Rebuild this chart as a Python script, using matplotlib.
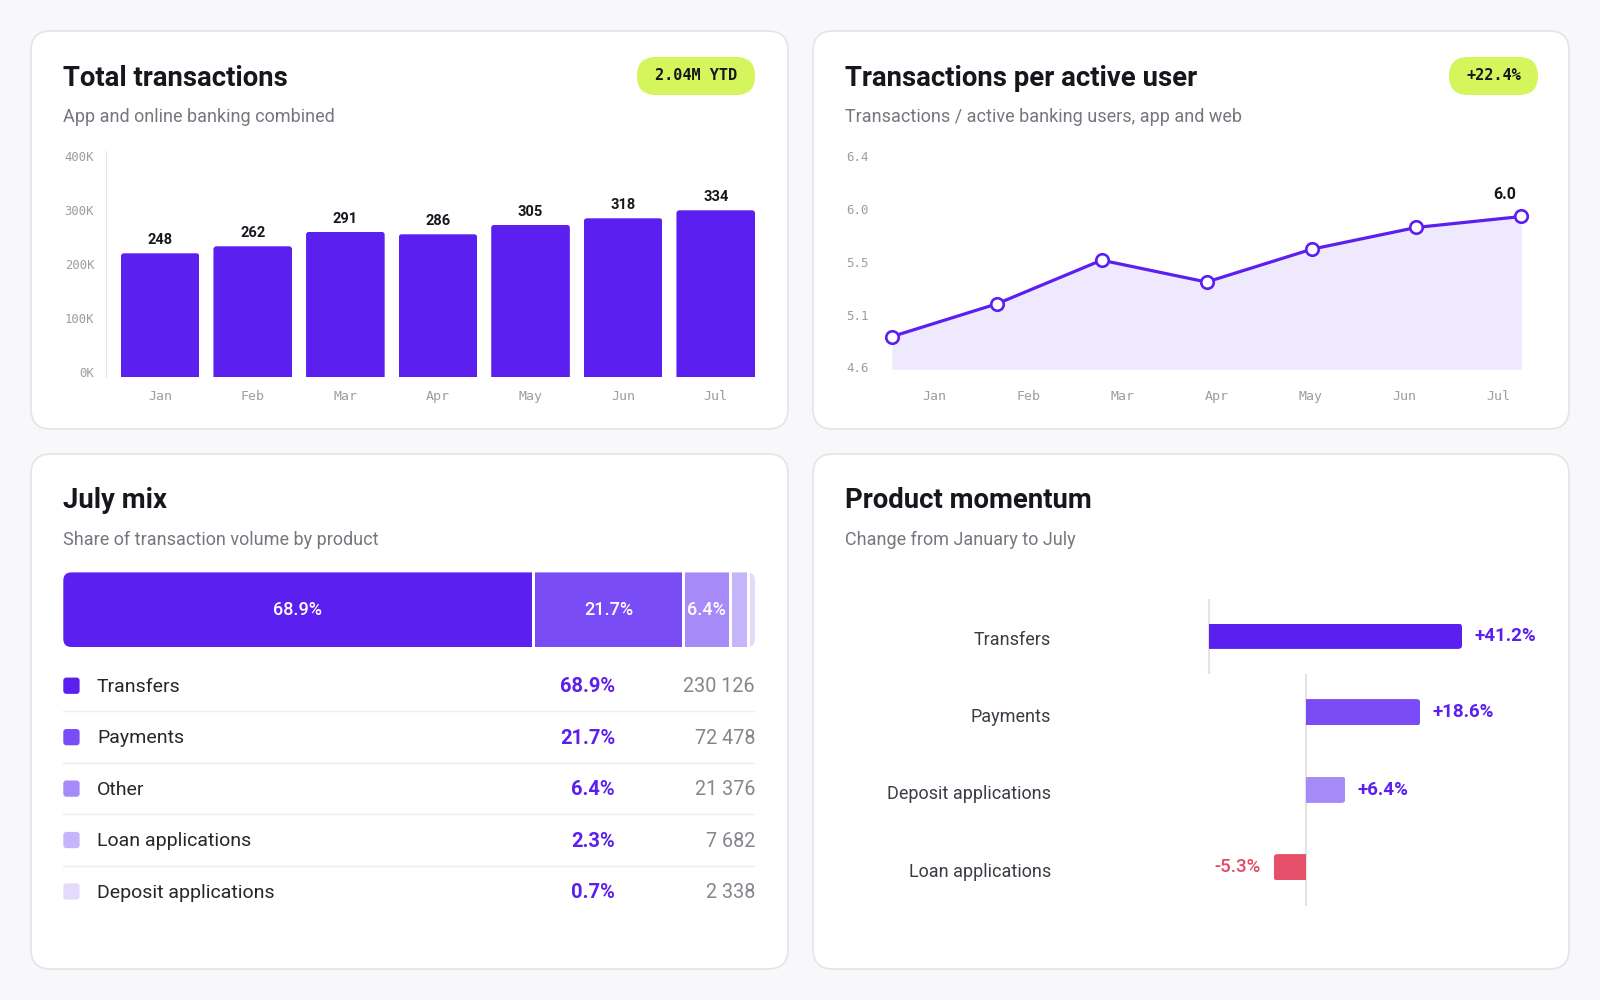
"""Banking dashboard: transactions, per-user rate, July mix and product momentum."""

import matplotlib

matplotlib.use("Agg")
import matplotlib.pyplot as plt
import numpy as np
from matplotlib.patches import FancyBboxPatch, Rectangle

# ---- data ----
months = ["Jan", "Feb", "Mar", "Apr", "May", "Jun", "Jul"]
transactions_k = [248, 262, 291, 286, 305, 318, 334]
volume_ticks_k = [0, 100, 200, 300, 400]

per_user = [4.9, 5.2, 5.6, 5.4, 5.7, 5.9, 6.0]
per_user_ticks = [4.6, 5.05, 5.5, 5.95, 6.4]
per_user_tick_labels = ["4.6", "5.1", "5.5", "6.0", "6.4"]

mix_products = ["Transfers", "Payments", "Other", "Loan applications", "Deposit applications"]
mix_share = [68.9, 21.7, 6.4, 2.3, 0.7]
mix_count = [230126, 72478, 21376, 7682, 2338]

momentum_products = ["Transfers", "Payments", "Deposit applications", "Loan applications"]
momentum_change = [41.2, 18.6, 6.4, -5.3]

# ---- style ----
W, H = 1600, 1000
BG = "#f8f8fa"
BORDER = "#e4e4e9"
INK = "#16161d"
SUB = "#76767e"
TICK = "#9c9ca3"
PURPLE = "#5b1ff0"
MIX_COLORS = ["#5b1ff0", "#7a4cf5", "#a68bf8", "#c6b5fb", "#e3dafd"]
MOM_COLORS = ["#5b1ff0", "#7a4cf5", "#a68bf8", "#e6506a"]
RED = "#e24a62"
LIME = "#d4f55b"
LAVENDER = "#efe9fd"
SANS = ["Roboto", "DejaVu Sans"]
MONO = ["DejaVu Sans Mono"]

plt.rcParams["font.family"] = SANS
fig = plt.figure(figsize=(W / 100, H / 100), dpi=100, facecolor=BG)


def rect(left, top, right, bottom):
    return [left / W, 1 - bottom / H, (right - left) / W, (bottom - top) / H]


def ftext(x, y, s, **kw):
    fig.text(x / W, 1 - y / H, s, **kw)


def card(left, top, right, bottom, title, subtitle):
    fig.add_artist(FancyBboxPatch(
        (left / W, 1 - bottom / H), (right - left) / W, (bottom - top) / H,
        boxstyle=f"round,pad=0,rounding_size={20 / W}", mutation_aspect=W / H,
        transform=fig.transFigure, facecolor="white", edgecolor=BORDER, lw=1.2, zorder=0))
    ftext(left + 32, top + 47, title, fontsize=19.8, fontweight="bold", color=INK, va="center")
    ftext(left + 32, top + 85.5, subtitle, fontsize=13, color=SUB, va="center")


def badge(left, top, right, bottom, label):
    h = bottom - top
    fig.add_artist(FancyBboxPatch(
        (left / W, 1 - bottom / H), (right - left) / W, h / H,
        boxstyle=f"round,pad=0,rounding_size={h / 2 / W}", mutation_aspect=W / H,
        transform=fig.transFigure, facecolor=LIME, edgecolor="none", zorder=1))
    ftext((left + right) / 2, (top + bottom) / 2, label, family=MONO, fontsize=11,
          fontweight="bold", color=INK, ha="center", va="center")


def rounded_bar(ax, x, y, w, h, color, r_px, flat=None):
    """Rounded box in data units; `flat` names a side that is cut square."""
    (x0, x1), (y0, y1) = ax.get_xlim(), ax.get_ylim()
    sx = ax.bbox.width / abs(x1 - x0)
    sy = ax.bbox.height / abs(y1 - y0)
    rx, ry = r_px / sx, r_px / sy
    bx, by, bw, bh = x, y, w, h
    if flat == "bottom":
        by, bh = y - ry, h + ry
    elif flat == "left":
        bx, bw = x - rx, w + rx
    elif flat == "right":
        bw = w + rx
    patch = FancyBboxPatch((bx, by), bw, bh, boxstyle=f"round,pad=0,rounding_size={rx}",
                           mutation_aspect=sx / sy, facecolor=color, edgecolor="none")
    ax.add_patch(patch)
    if flat:
        patch.set_clip_path(Rectangle((x, y), w, h, transform=ax.transData))
    return patch


def bare(ax):
    for s in ax.spines.values():
        s.set_visible(False)
    ax.patch.set_visible(False)
    ax.tick_params(length=0)


def label_axes(box, xlim, ylim):
    lax = fig.add_axes(box)
    bare(lax)
    lax.set_xlim(*xlim)
    lax.set_ylim(*ylim)
    lax.set_xticks([])
    lax.set_yticks([])
    return lax


# ---- cards ----
card(31, 31, 788, 429, "Total transactions", "App and online banking combined")
card(813, 31, 1569, 429, "Transactions per active user",
     "Transactions / active banking users, app and web")
card(31, 454, 788, 969, "July mix", "Share of transaction volume by product")
card(813, 454, 1569, 969, "Product momentum", "Change from January to July")

badge(637, 57, 755, 95, f"{sum(transactions_k) / 1000:.2f}M YTD")
badge(1449, 57, 1538, 95, f"+{(per_user[-1] / per_user[0] - 1) * 100:.1f}%")

# ---- total transactions bars ----
box1 = rect(106, 151, 755, 377.3)
ax1 = fig.add_axes(box1)
bare(ax1)
ax1.set_xlim(-0.585, 6.424)
ax1.set_ylim(0, 452.6)
ax1.spines["left"].set_visible(True)
ax1.spines["left"].set_color(BORDER)
bar_w = 0.849
for i, v in enumerate(transactions_k):
    rounded_bar(ax1, i - bar_w / 2, 0, bar_w, v, PURPLE, 3, flat="bottom")
    ax1.annotate(str(v), (i, v), xytext=(0, 6.5), textcoords="offset points",
                 ha="center", va="baseline", fontsize=10.5, fontweight="bold", color=INK)
ax1.set_xticks(range(len(months)), months, family=MONO, fontsize=9.5, color=TICK)
ax1.tick_params(axis="x", pad=9)
ax1.set_yticks([])

# axis labels in the reference span a slightly taller range than the bars
lax1 = label_axes(box1, (0, 1), (-9.06, 409.4))
lax1.set_yticks(volume_ticks_k, [f"{v}K" for v in volume_ticks_k], family=MONO,
                fontsize=8.8, color=TICK)
lax1.tick_params(axis="y", pad=8.5)

# ---- transactions per active user line ----
box2 = rect(887.8, 156.1, 1544.9, 369.4)
ax2 = fig.add_axes(box2)
bare(ax2)
ax2.set_xlim(-0.038, 6.224)
ax2.set_ylim(4.6, 6.553)
ax2.set_xticks([])
ax2.set_yticks([])
xs = np.arange(len(per_user))
ax2.fill_between(xs, per_user, 4.6, color=LAVENDER, lw=0)
ax2.plot(xs, per_user, color=PURPLE, lw=2.3, marker="o", ms=9, mfc="white",
         mec=PURPLE, mew=1.9, clip_on=False)
ax2.annotate(f"{per_user[-1]:.1f}", (xs[-1], per_user[-1]), xytext=(-3.5, 12.5),
             textcoords="offset points", ha="right", va="baseline", fontsize=11.5,
             fontweight="bold", color=INK)

lax2 = label_axes(box2, (-0.5, 6.5), (4.583, 6.4))
lax2.set_xticks(range(len(months)), months, family=MONO, fontsize=9.5, color=TICK)
lax2.tick_params(axis="x", pad=15)
lax2.set_yticks(per_user_ticks, per_user_tick_labels, family=MONO, fontsize=9, color=TICK)
lax2.tick_params(axis="y", pad=13.5)

# ---- July mix stacked bar ----
ax3 = fig.add_axes(rect(63.3, 572.4, 755, 647))
bare(ax3)
ax3.set_xlim(0, 100)
ax3.set_ylim(0, 1)
ax3.set_xticks([])
ax3.set_yticks([])
clip = rounded_bar(ax3, 0, 0, 100, 1, "none", 8)
gap = 3 / (ax3.bbox.width / 100)           # 3 px white gap, in data units
scale = (100 - gap * (len(mix_share) - 1)) / 100
left = 0.0
for share, color in zip(mix_share, MIX_COLORS):
    width = share * scale
    bars = ax3.barh(0.5, width, left=left, height=1, color=color, lw=0)
    for b in bars:
        b.set_clip_path(clip)
    if share >= 5:
        ax3.text(left + width / 2, 0.5, f"{share}%", ha="center", va="center",
                 fontsize=13, fontweight="medium", color="white")
    left += width + gap

# ---- July mix list ----
ax4 = fig.add_axes(rect(63.3, 660, 755, 917.2))
bare(ax4)
ax4.set_xlim(0, 691.7)
ax4.set_ylim(len(mix_products) - 0.5, -0.5)
ax4.set_xticks([])
ax4.set_yticks([])
sq = 16.3 / 51.5
for i, (name, share, count, color) in enumerate(zip(mix_products, mix_share, mix_count, MIX_COLORS)):
    rounded_bar(ax4, 0, i - sq / 2, 16.3, sq, color, 3)
    ax4.text(33.7, i + 0.02, name, va="center", fontsize=14, color="#26262c")
    ax4.text(551.7, i + 0.02, f"{share}%", va="center", ha="right", fontsize=14.5,
             fontweight="bold", color=PURPLE)
    ax4.text(691.7, i + 0.02, f"{count:,}".replace(",", " "), va="center", ha="right",
             fontsize=14.2, color="#85858c")
    if i < len(mix_products) - 1:
        ax4.axhline(i + 0.5, color="#ececf0", lw=1)

# ---- product momentum ----
# Transfers row sits on its own baseline, the other rows share a second one
ax5 = fig.add_axes(rect(1051, 599, 1560, 673.5))
ax6 = fig.add_axes(rect(1051, 673.5, 1560, 906))
rows = [(ax5, (-25.76, 57.14), (0.5, -0.5), slice(0, 1)),
        (ax6, (-41.55, 41.35), (2.5, -0.5), slice(1, 4))]
for ax, xlim, ylim, sel in rows:
    bare(ax)
    ax.set_xlim(*xlim)
    ax.set_ylim(*ylim)
    ax.axvline(0, color="#e3e3e7", lw=1.5, zorder=0)
    names = momentum_products[sel]
    vals = momentum_change[sel]
    cols = MOM_COLORS[sel]
    ax.set_xticks([])
    ax.set_yticks(np.arange(len(names)) + 0.03, names, fontsize=13, color="#3c3c44")
    ax.tick_params(axis="y", pad=0)
    bh = 0.34
    for i, (v, c) in enumerate(zip(vals, cols)):
        if v >= 0:
            rounded_bar(ax, 0, i - bh / 2, v, bh, c, 4, flat="left")
            ax.annotate(f"+{v}%", (v, i), xytext=(9, 0), textcoords="offset points",
                        ha="left", va="center", fontsize=13.5, fontweight="bold", color=PURPLE)
        else:
            rounded_bar(ax, v, i - bh / 2, -v, bh, c, 4, flat="right")
            ax.annotate(f"{v}%", (v, i), xytext=(-9, 0), textcoords="offset points",
                        ha="right", va="center", fontsize=13.5, fontweight="medium", color=RED)

fig.savefig("out.png", dpi=100, facecolor=BG)
